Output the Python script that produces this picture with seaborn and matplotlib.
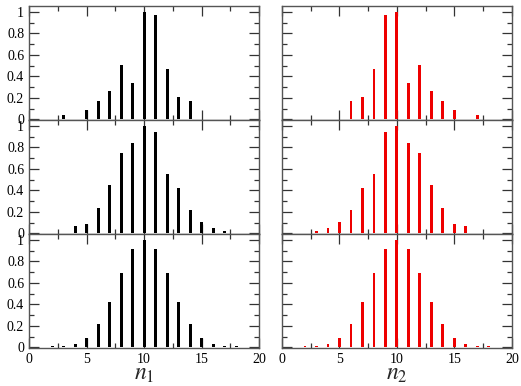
import numpy as np
import pandas as pd
import matplotlib
matplotlib.use("Agg")
import matplotlib.pyplot as plt
import seaborn as sns
from matplotlib.ticker import MultipleLocator

# occupation numbers on the x axis
n_vals = list(range(0, 21))

# probabilities (n1 column, rows top -> bottom)
p_n1_top = [0, 0, 0, 0.045, 0, 0.09, 0.175, 0.26, 0.51, 0.34, 1.0, 0.97, 0.47, 0.21, 0.175, 0, 0, 0, 0, 0, 0]
p_n1_mid = [0, 0, 0, 0, 0.07, 0.09, 0.24, 0.45, 0.75, 0.84, 1.0, 0.945, 0.55, 0.425, 0.22, 0.105, 0.05, 0.02, 0, 0, 0]
p_n1_bot = [0, 0.006, 0.01, 0.012, 0.03, 0.087, 0.217, 0.427, 0.69, 0.913, 1.0, 0.913, 0.69, 0.427, 0.217, 0.087, 0.03, 0.012, 0.01, 0.006, 0]

# n2 column is the mirror image (n2 = 20 - n1)
p_n2_top = p_n1_top[::-1]
p_n2_mid = p_n1_mid[::-1]
p_n2_bot = p_n1_bot[::-1]

rows = [(p_n1_top, p_n2_top), (p_n1_mid, p_n2_mid), (p_n1_bot, p_n2_bot)]

sns.set_style("ticks")
plt.rcParams['font.family'] = ['Liberation Serif', 'DejaVu Serif']
plt.rcParams['mathtext.fontset'] = 'stix'

fig, axes = plt.subplots(3, 2, figsize=(5.21, 3.86), dpi=100)
fig.subplots_adjust(left=0.0557, right=0.9827, bottom=0.0984, top=0.9845, hspace=0, wspace=0.1)

for r, (left_vals, right_vals) in enumerate(rows):
    for c, (vals, col) in enumerate([(left_vals, 'black'), (right_vals, '#ee0000')]):
        ax = axes[r, c]
        df = pd.DataFrame({'n': n_vals, 'p': vals})
        df = df[df['p'] > 0]
        sns.barplot(data=df, x='n', y='p', native_scale=True, color=col,
                    saturation=1, width=0.26, errorbar=None, linewidth=0, ax=ax)
        ax.set_xlim(0, 20)
        ax.set_ylim(-0.005, 1.055)
        ax.xaxis.set_major_locator(MultipleLocator(5))
        ax.xaxis.set_minor_locator(MultipleLocator(2.5))
        ax.yaxis.set_major_locator(MultipleLocator(0.2))
        ax.yaxis.set_minor_locator(MultipleLocator(0.1))
        ax.tick_params(which='both', direction='in', top=True, right=True, colors='#333333',
                       labelcolor='black', labelsize=10)
        ax.tick_params(which='major', length=7, width=0.9)
        ax.tick_params(which='minor', length=3.5, width=0.9)
        for s in ax.spines.values():
            s.set_color('#555555')
            s.set_linewidth(1.0)
        ax.set_xlabel('')
        ax.set_ylabel('')
        ax.set_yticks([0, 0.2, 0.4, 0.6, 0.8, 1.0])
        if c == 0:
            ax.set_yticklabels(['0', '0.2', '0.4', '0.6', '0.8', '1'])
        else:
            ax.set_yticklabels([])
        if r < 2:
            ax.set_xticklabels([])
        else:
            ax.set_xticks([0, 5, 10, 15, 20])
            ax.set_xticklabels(['0', '5', '10', '15', '20'])
            ax.set_xlabel('$n_1$' if c == 0 else '$n_2$', fontsize=17, labelpad=-1)

fig.savefig('out.png', dpi=100)
